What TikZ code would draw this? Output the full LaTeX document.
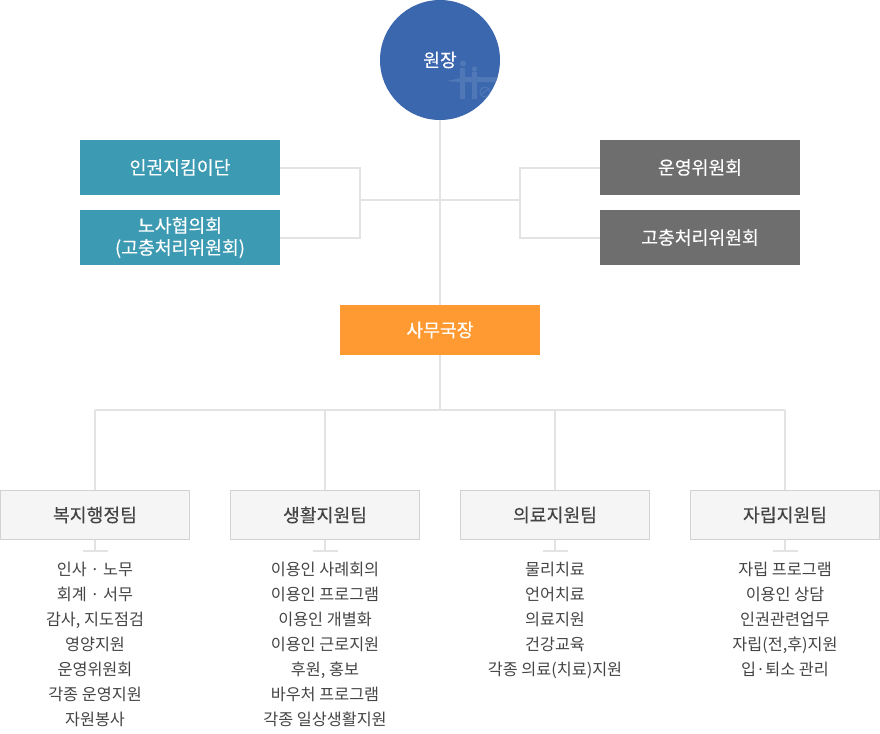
\documentclass[tikz,border=0pt]{standalone}
\usepackage{fontspec}
\usetikzlibrary{calc}
\setmainfont{Noto Sans CJK KR}
\newfontfamily\titlefont[FakeBold=0.25]{Noto Sans CJK KR}
\definecolor{linegray}{HTML}{E3E3E3}
\definecolor{circblue}{HTML}{3B67AF}
\definecolor{markblue}{HTML}{5078B6}
\definecolor{teal}{HTML}{3C9AB2}
\definecolor{darkgray}{HTML}{6E6E6E}
\definecolor{orangebox}{HTML}{FF9A33}
\definecolor{teamfill}{HTML}{F5F5F5}
\definecolor{teamline}{HTML}{D2D2D2}
\definecolor{textgray}{HTML}{444444}
\tikzset{
  x=0.75pt,y=-0.75pt,
  conn/.style={draw=linegray,line width=1.5pt},
  titlefnt/.style={font=\titlefont\fontsize{13.7pt}{16.5pt}\selectfont},
  topbox/.style={minimum width=150pt,minimum height=41.25pt,inner sep=0pt,text=white,titlefnt,align=center},
  tealbox/.style={topbox,fill=teal},
  graybox/.style={topbox,fill=darkgray},
  teambox/.style={minimum width=141.75pt,minimum height=36.75pt,inner sep=0pt,fill=teamfill,draw=teamline,line width=0.75pt},
  whitelabel/.style={text=white,inner sep=0pt,titlefnt},
  teamlabel/.style={text=textgray,inner sep=0pt,titlefnt},
  items/.style={text=textgray,inner sep=0pt,font=\fontsize{12.2pt}{18.75pt}\selectfont,align=center,anchor=north}
}
\begin{document}
\begin{tikzpicture}
\useasboundingbox (0,0) rectangle (880,733);
\coordinate (trunkL) at (360,200);
\coordinate (trunkR) at (520,200);
\coordinate (bus) at (440,410);
\coordinate (busA) at (95,410);
\coordinate (busB) at (325,410);
\coordinate (busC) at (555,410);
\coordinate (busD) at (785,410);
\node[circle,fill=circblue,minimum size=90pt,inner sep=0pt] (dir) at (440,60) {};
\node[tealbox] (t1) at (180,167.5) {};
\node[tealbox] (t2) at (180,237.5) {};
\node[graybox] (g1) at (700,167.5) {};
\node[graybox] (g2) at (700,237.5) {};
\node[minimum width=150pt,minimum height=37.5pt,inner sep=0pt,fill=orangebox] (sec) at (440,330) {};
\node[teambox] (a) at (95,515) {};
\node[teambox] (b) at (325,515) {};
\node[teambox] (c) at (555,515) {};
\node[teambox] (d) at (785,515) {};
\draw[conn] (dir.south) -- (sec.north);
\draw[conn] (sec.south) -- (bus);
\draw[conn] (t1.east) -| (trunkL) |- (t2.east);
\draw[conn] (g1.west) -| (trunkR) |- (g2.west);
\draw[conn] (trunkL) -- (trunkR);
\draw[conn] (busA) -- (busD);
\draw[conn] (busA) -- (a.north);
\draw[conn] (busB) -- (b.north);
\draw[conn] (busC) -- (c.north);
\draw[conn] (busD) -- (d.north);
\foreach \n/\xx in {a/95,b/325,c/555,d/785}{
  \coordinate (\n s) at (\xx,551);
  \draw[conn] (\n.south) -- (\n s);
  \draw[conn] ($(\n s)+(-12.5,0)$) -- ($(\n s)+(12.5,0)$);
}
% watermark in circle
\begin{scope}
\clip (440,60) circle (60);
\fill[markblue] (447,81) -- (465,77) -- (500,77) -- (500,82) -- (460,82) -- cycle;
\fill[markblue] (460,68) rectangle (465,99);
\fill[markblue] (472,72) rectangle (477,99);
\fill[markblue] (463,63.5) circle (3);
\fill[markblue] (474.5,69) circle (2.6);
\draw[markblue,line width=0.8pt] (485,92) circle (5);
\draw[markblue,line width=0.8pt] (482,94) -- (488,89);
\end{scope}
% labels
\node[whitelabel] (dirl) at (dir.center) {원장};
\node[tealbox,fill=none] at (t1.center) {인권지킴이단};
\node[tealbox,fill=none] at (t2.center) {노사협의회\\(고충처리위원회)};
\node[graybox,fill=none] at (g1.center) {운영위원회};
\node[graybox,fill=none] at (g2.center) {고충처리위원회};
\node[whitelabel] at (sec.center) {사무국장};
\node[teamlabel] at (a.center) {복지행정팀};
\node[teamlabel] at (b.center) {생활지원팀};
\node[teamlabel] at (c.center) {의료지원팀};
\node[teamlabel] at (d.center) {자립지원팀};
\node[items] (la) at (95,562) {인사 · 노무\\회계 · 서무\\감사, 지도점검\\영양지원\\운영위원회\\각종 운영지원\\자원봉사};
\node[items] (lb) at (325,562) {이용인 사례회의\\이용인 프로그램\\이용인 개별화\\이용인 근로지원\\후원, 홍보\\바우처 프로그램\\각종 일상생활지원};
\node[items] (lc) at (555,562) {물리치료\\언어치료\\의료지원\\건강교육\\각종 의료(치료)지원};
\node[items] (ld) at (785,562) {자립 프로그램\\이용인 상담\\인권관련업무\\자립(전,후)지원\\입·퇴소 관리};
\end{tikzpicture}
\end{document}
